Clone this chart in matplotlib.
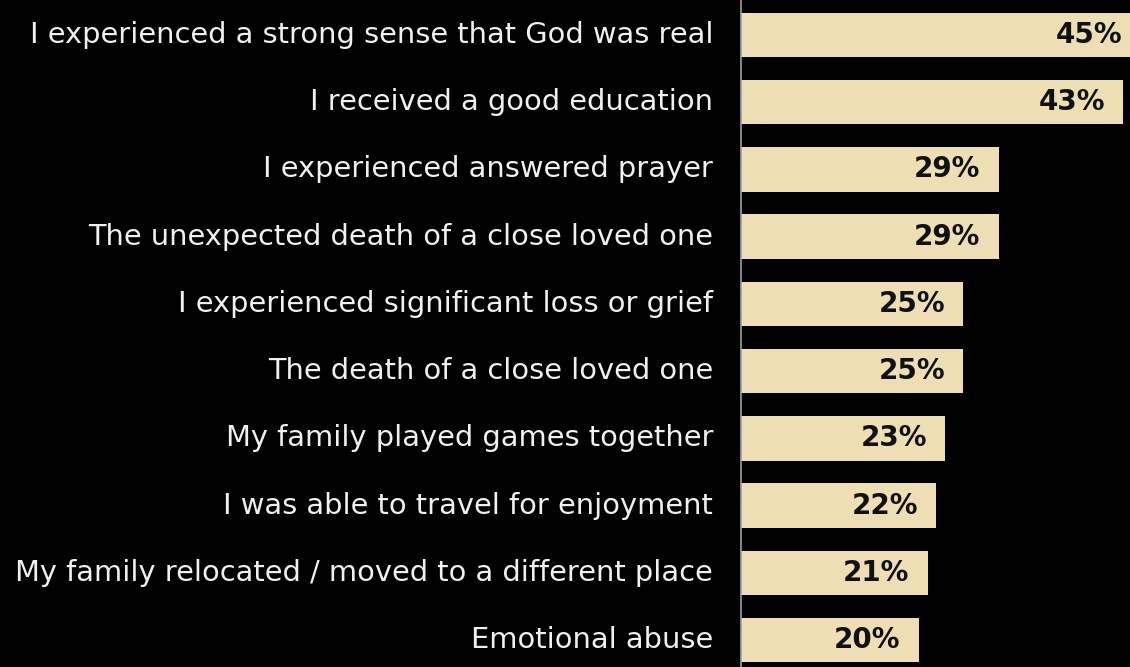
import matplotlib
matplotlib.use("Agg")
import matplotlib.pyplot as plt

categories = [
    "I experienced a strong sense that God was real",
    "I received a good education",
    "I experienced answered prayer",
    "The unexpected death of a close loved one",
    "I experienced significant loss or grief",
    "The death of a close loved one",
    "My family played games together",
    "I was able to travel for enjoyment",
    "My family relocated / moved to a different place",
    "Emotional abuse",
]
values = [45, 43, 29, 29, 25, 25, 23, 22, 21, 20]
value_labels = ["45%", "43%", "29%", "29%", "25%", "25%", "23%", "22%", "21%", "20%"]

bar_color = "#EDDFB3"
fig = plt.figure(figsize=(11.3, 6.67), dpi=100, facecolor="black")
ax = fig.add_axes([741 / 1130, 0, 1 - 741 / 1130, 1])
ax.set_facecolor("black")

ypos = list(range(len(categories)))
ax.barh(ypos, values, height=0.66, color=bar_color)
ax.set_xlim(0, 43.8)
ax.set_ylim(len(categories) - 1 + 0.40, -0.52)

for y, v, lab in zip(ypos, values, value_labels):
    ax.annotate(lab, xy=(v, y), xytext=(-13, 0), textcoords="offset points",
                ha="right", va="center", fontsize=20, fontweight="bold",
                color="#111111", annotation_clip=False)
    ax.annotate(categories[y], xy=(0, y), xytext=(-20, 0),
                textcoords="offset points", ha="right", va="center",
                fontsize=20.8, color="#F0F0F0", annotation_clip=False)

for s in ["top", "right", "bottom"]:
    ax.spines[s].set_visible(False)
ax.spines["left"].set_color("#A0A0A0")
ax.spines["left"].set_linewidth(1.2)
ax.set_xticks([])
ax.set_yticks([])

fig.savefig("out.png", dpi=100, facecolor="black")
